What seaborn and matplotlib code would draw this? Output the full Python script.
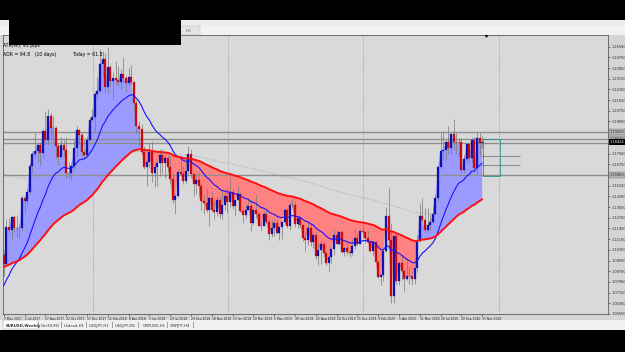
import numpy as np
import pandas as pd
import matplotlib
matplotlib.use("Agg")
import matplotlib.pyplot as plt
import seaborn as sns
from matplotlib.patches import Rectangle

# EURUSD weekly, 7 May 2017 .. 15 Nov 2020 (prices x 10000)
first_open = 10998
close_pips = [
    10930, 11208, 11180, 11282, 11196, 11197, 11195, 11426, 11398, 11470,
    11665, 11750, 11773, 11822, 11760, 11923, 11860, 12035, 11944, 11950,
    11815, 11733, 11820, 11785, 11607, 11608, 11665, 11794, 11935, 11896,
    11770, 11748, 11860, 12005, 12030, 12200, 12220, 12425, 12460, 12250,
    12405, 12295, 12320, 12305, 12290, 12350, 12320, 12280, 12330, 12290,
    12130, 11960, 11940, 11770, 11655, 11690, 11765, 11610, 11655, 11685,
    11745, 11685, 11720, 11655, 11565, 11410, 11440, 11620, 11600, 11550,
    11625, 11755, 11605, 11525, 11560, 11510, 11400, 11385, 11335, 11420,
    11335, 11315, 11405, 11305, 11370, 11440, 11395, 11470, 11365, 11410,
    11455, 11325, 11295, 11335, 11365, 11235, 11330, 11300, 11215, 11215,
    11300, 11245, 11150, 11200, 11235, 11160, 11205, 11245, 11335, 11210,
    11370, 11370, 11225, 11270, 11220, 11125, 11110, 11200, 11090, 11145,
    10990, 11030, 11075, 11015, 10940, 10980, 11040, 11145, 11080, 11165,
    11020, 11050, 11020, 11015, 11060, 11120, 11080, 11175, 11165, 11120,
    11090, 11025, 11090, 10945, 10830, 10845, 11025, 11285, 11105, 10690,
    11140, 10800, 10935, 10875, 10820, 10840, 10840, 10820, 10900, 11100,
    11290, 11255, 11180, 11220, 11245, 11300, 11425, 11655, 11775, 11785,
    11840, 11795, 11905, 11840, 11845, 11840, 11630, 11715, 11825, 11720,
    11860, 11645, 11875, 11835, 11842]
high_pips = [
    11020, 11265, 11270, 11285, 11295, 11295, 11225, 11445, 11445, 11490,
    11680, 11775, 11910, 11845, 11845, 11940, 12070, 12090, 12060, 12035,
    11960, 11835, 11880, 11860, 11880, 11690, 11690, 11860, 11960, 11940,
    11915, 11860, 11880, 12025, 12090, 12215, 12325, 12535, 12520, 12505,
    12555, 12415, 12365, 12445, 12410, 12385, 12475, 12345, 12395, 12415,
    12300, 12155, 11995, 11975, 11810, 11720, 11840, 11850, 11675, 11715,
    11790, 11790, 11745, 11745, 11735, 11610, 11460, 11640, 11735, 11660,
    11720, 11815, 11790, 11610, 11610, 11620, 11535, 11455, 11500, 11435,
    11470, 11400, 11440, 11440, 11485, 11485, 11500, 11570, 11490, 11415,
    11515, 11465, 11340, 11375, 11420, 11405, 11340, 11450, 11325, 11255,
    11325, 11325, 11265, 11265, 11265, 11265, 11210, 11250, 11350, 11345,
    11390, 11410, 11400, 11285, 11285, 11230, 11165, 11250, 11230, 11165,
    11165, 11085, 11110, 11090, 11025, 11000, 11060, 11180, 11180, 11175,
    11180, 11055, 11095, 11035, 11115, 11200, 11150, 11190, 11240, 11170,
    11175, 11095, 11095, 11095, 10960, 10865, 11055, 11355, 11495, 11235,
    11145, 11150, 10955, 10990, 10890, 10975, 10915, 10875, 10985, 11145,
    11385, 11420, 11350, 11350, 11305, 11370, 11450, 11660, 11910, 11915,
    11865, 11965, 11910, 12010, 11915, 11870, 11870, 11745, 11835, 11830,
    11880, 11880, 11920, 11920, 11890]
low_pips = [
    10840, 10925, 11160, 11110, 11170, 11130, 11120, 11175, 11310, 11370,
    11455, 11610, 11730, 11690, 11660, 11720, 11825, 11825, 11865, 11860,
    11720, 11670, 11730, 11730, 11575, 11575, 11555, 11640, 11730, 11830,
    11730, 11715, 11730, 11850, 11995, 11915, 12165, 12215, 12335, 12205,
    12205, 12260, 12155, 12270, 12260, 12240, 12290, 12215, 12265, 12270,
    12055, 11910, 11820, 11750, 11640, 11510, 11645, 11540, 11505, 11510,
    11590, 11610, 11575, 11615, 11530, 11385, 11300, 11430, 11590, 11525,
    11530, 11600, 11575, 11435, 11455, 11430, 11335, 11300, 11315, 11215,
    11325, 11265, 11290, 11270, 11265, 11330, 11310, 11355, 11340, 11290,
    11405, 11320, 11235, 11275, 11330, 11175, 11220, 11275, 11210, 11185,
    11210, 11225, 11110, 11130, 11135, 11155, 11105, 11115, 11225, 11200,
    11180, 11350, 11205, 11195, 11200, 11100, 11025, 11070, 11065, 11050,
    10965, 10925, 10930, 10990, 10925, 10880, 10940, 11000, 11075, 11070,
    11015, 10990, 11000, 10980, 10995, 11040, 11065, 11075, 11125, 11085,
    11085, 11020, 10990, 10940, 10825, 10775, 10800, 11020, 11055, 10635,
    10635, 10780, 10770, 10810, 10725, 10810, 10780, 10775, 10780, 10870,
    11095, 11240, 11170, 11170, 11185, 11235, 11295, 11400, 11640, 11705,
    11710, 11755, 11755, 11780, 11755, 11735, 11610, 11610, 11685, 11690,
    11690, 11620, 11605, 11745, 11800]

date_labels = ["7 May 2017", "2 Jul 2017", "27 Aug 2017", "22 Oct 2017", "17 Dec 2017",
               "11 Feb 2018", "8 Apr 2018", "3 Jun 2018", "29 Jul 2018", "23 Sep 2018",
               "18 Nov 2018", "13 Jan 2019", "10 Mar 2019", "5 May 2019", "30 Jun 2019",
               "25 Aug 2019", "20 Oct 2019", "15 Dec 2019", "9 Feb 2020", "5 Apr 2020",
               "31 May 2020", "26 Jul 2020", "20 Sep 2020", "15 Nov 2020"]
year_bars = [34, 86, 138, 190]

# moving average start values
fast_seed, fast_span = 1.0750, 20
slow_seed, slow_span = 1.0905, 65
long_seed, long_span = 1.1610, 150

level_lines = [1.1915, 1.1864, 1.1834, 1.1595]
box_labels = {1.1915: "1.19150", 1.1864: "1.18640", 1.1595: "1.15950"}
bid_price = 1.18424
short_levels = [1.1737, 1.1670]

tabs = ["EURUSD,Weekly", "Ger30,M1", "Usdcad,H1", "USDJPY,H1", "USDJPY,M1", "GBPUSD,H1", "GBPJPY,H4"]

close = np.array(close_pips) / 10000
high = np.array(high_pips) / 10000
low = np.array(low_pips) / 10000
opn = np.concatenate([[first_open / 10000], close[:-1]])
bars = np.arange(len(close))


def ema(values, span, seed):
    s = pd.Series(np.concatenate([[seed], values]))
    return s.ewm(span=span, adjust=False).mean().to_numpy()[1:]


df = pd.DataFrame({"bar": bars,
                   "fast": ema(close, fast_span, fast_seed),
                   "slow": ema(close, slow_span, slow_seed),
                   "long": ema(close, long_span, long_seed)})

sns.set_style("white")
plt.rcParams["font.family"] = ["DejaVu Sans"]

W, H = 625, 352
fig = plt.figure(figsize=(W / 100, H / 100), dpi=100, facecolor="#d5d5d5")


def fy(py):
    return 1 - py / H


ax = fig.add_axes([3 / W, fy(314), 605 / W, 279 / H])
ax.set_facecolor("#d9d9d9")
step = 2.6
ax.set_xlim(-0.3, 605 / step - 0.3)
ax.set_ylim(1.0555, 1.2642)

for b in year_bars:
    ax.axvline(b + 0.3, color="#858585", lw=0.6, ls=(0, (1, 2)), zorder=1)

slow = df["slow"].to_numpy()
ax.fill_between(bars, close, slow, where=close >= slow, interpolate=True,
                color="#9b9bff", lw=0, zorder=1)
ax.fill_between(bars, close, slow, where=close < slow, interpolate=True,
                color="#ff8282", lw=0, zorder=1)

sns.lineplot(data=df, x="bar", y="long", ax=ax, color="#a5a5a5", lw=0.7,
             linestyle=":", zorder=2)
for p in level_lines:
    ax.axhline(p, color="#8e8e8e", lw=1.0, zorder=2)
ax.hlines(short_levels, 183.5, 198.6, color="#8e8e8e", lw=0.8, zorder=2)
ax.add_patch(Rectangle((184.3, 1.1587), 6.5, 0.0277, fill=False,
                       ec="#2a9090", lw=0.6, zorder=2))

# candles
up = close >= opn
body_col = np.where(up, "#1010b4", "#c80a0a")
ax.vlines(bars, low, high, color="#7a7a7a", lw=0.5, zorder=3)
ax.bar(bars, close - opn, bottom=opn, width=0.72, color=body_col,
       edgecolor=body_col, lw=0.2, zorder=4)

sns.lineplot(data=df, x="bar", y="fast", ax=ax, color="#1414ff", lw=0.8, zorder=5)
sns.lineplot(data=df, x="bar", y="slow", ax=ax, color="#ff1010", lw=1.4, zorder=5)

ax.plot(185.5, 1.2642, marker="v", ms=2.2, color="black", clip_on=False, zorder=6)

# axes cosmetics
ax.set_xlabel("")
ax.set_ylabel("")
ax.set_xticks(list(range(0, len(close), 8)))
ax.set_xticklabels(date_labels)
for lbl in ax.get_xticklabels():
    lbl.set_horizontalalignment("left")
ax.yaxis.tick_right()
price_ticks = 1.0555 + 0.008 * np.arange(26)
ax.set_yticks(price_ticks)
ax.set_yticklabels([f"{p:.5f}" for p in price_ticks])
ax.tick_params(axis="x", labelsize=2.2, length=1.5, pad=0.6, width=0.4,
               colors="#202020", bottom=True)
ax.tick_params(axis="y", labelsize=2.5, length=1.5, pad=0.8, width=0.4,
               colors="#202020", right=True, left=False)
for s in ax.spines.values():
    s.set_color("#5c5c5c")
    s.set_linewidth(0.6)

ytf = ax.get_yaxis_transform()
for p, t in box_labels.items():
    ax.text(1.003, p, t, transform=ytf, fontsize=2.5, ha="left", va="center",
            color="#202020", bbox=dict(boxstyle="square,pad=0.2", fc="#b4b4b4", ec="#707070", lw=0.3))
ax.text(1.003, bid_price, f"{bid_price:.5f}", transform=ytf, fontsize=2.5, ha="left",
        va="center", color="white", bbox=dict(boxstyle="square,pad=0.2", fc="black", ec="none"))

# indicator text in the corner
fig.text(3 / W, fy(47), "ATR(W): 91 pips", fontsize=3.3, color="black", zorder=5)
fig.text(3 / W, fy(56), "ADR = 94.8   (10 days)", fontsize=3.3, color="black", zorder=5)
fig.text(72 / W, fy(56), "Today = 61.8", fontsize=3.3, color="black", zorder=5)

# window chrome
def box(x, y, w, h, fc, ec="none", lw=0, z=10):
    fig.add_artist(Rectangle((x / W, fy(y + h)), w / W, h / H, transform=fig.transFigure,
                             fc=fc, ec=ec, lw=lw, zorder=z))

box(0, 0, W, 20, "black")
box(0, 20, W, 6, "#ececec")
box(0, 26, W, 9, "#f2f2f2", z=9)
box(180, 26, 20, 9, "#e4e4e4", ec="#b0b0b0", lw=0.3)
fig.text(186 / W, fy(32), "HH", fontsize=2.6, color="#505050", zorder=11)
box(9, 20, 172, 25, "black", z=12)
box(0, 320, W, 10, "#f0f0f0")
box(3, 320, 35, 9, "white", ec="#909090", lw=0.3, z=11)
box(0, 330, W, 22, "black")

tab_x = [6, 41, 64, 89, 115, 143, 170]
sep_x = [38, 61, 86, 112, 138, 167, 193]
for tx, name in zip(tab_x, tabs):
    fig.text(tx / W, fy(327), name, fontsize=2.8, color="#303030", zorder=12,
             fontweight="bold" if name == tabs[0] else "normal")
for sx in sep_x:
    box(sx, 322, 0.6, 6, "#a0a0a0", z=11)

fig.savefig("out.png", dpi=100, facecolor=fig.get_facecolor())
